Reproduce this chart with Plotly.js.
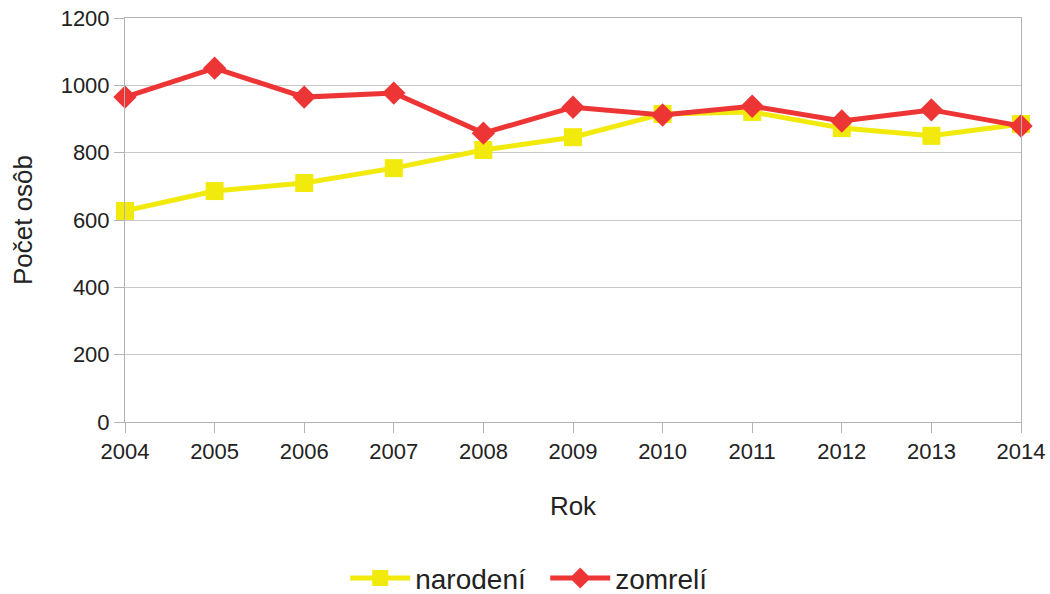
<!DOCTYPE html>
<html>
<head>
<meta charset="utf-8">
<script src="https://cdn.plot.ly/plotly-3.0.1.min.js"></script>
<style>html,body{margin:0;padding:0;background:#fff;}#chart{width:1050px;height:594px;}</style>
</head>
<body>
<div id="chart"></div>
<script>
const years = [2004, 2005, 2006, 2007, 2008, 2009, 2010, 2011, 2012, 2013, 2014];
const narodeni = [627, 686, 710, 754, 808, 846, 915, 921, 873, 850, 885];
const zomreli = [965, 1051, 965, 977, 858, 935, 912, 938, 894, 927, 879];
const yTicks = [0, 200, 400, 600, 800, 1000, 1200];

const traces = [
  {x: years, y: narodeni, name: 'narodení', type: 'scatter', mode: 'lines+markers', cliponaxis: false,
   line: {color: '#f2ea0c', width: 5}, marker: {symbol: 'square', size: 18, color: '#f2ea0c'}},
  {x: years, y: zomreli, name: 'zomrelí', type: 'scatter', mode: 'lines+markers', cliponaxis: false,
   line: {color: '#ee3536', width: 5}, marker: {symbol: 'diamond', size: 18, color: '#ee3536'}}
];

const layout = {
  width: 1050, height: 594,
  margin: {l: 125, r: 29, t: 18, b: 172, autoexpand: false},
  paper_bgcolor: '#fff', plot_bgcolor: '#fff',
  font: {family: 'Liberation Sans, Arial, sans-serif', color: '#222', size: 22},
  showlegend: true,
  legend: {orientation: 'h', x: 0.469, xanchor: 'center', y: -0.325, yanchor: 'top',
           font: {size: 28}, itemwidth: 60, entrywidth: 125, entrywidthmode: 'pixels'},
  xaxis: {
    range: [2004, 2014], tickvals: years, ticktext: years.map(String),
    showgrid: false, zeroline: false, showline: true, linecolor: '#b3b3b3', linewidth: 1,
    mirror: true, ticks: 'outside', ticklen: 10, tickcolor: '#b3b3b3',
    tickfont: {size: 22}, title: {text: 'Rok', font: {size: 26}, standoff: 33}
  },
  yaxis: {
    range: [0, 1200], tickvals: yTicks,
    showgrid: true, gridcolor: '#c8c8c8', gridwidth: 1, zeroline: false,
    showline: true, linecolor: '#b3b3b3', linewidth: 1, mirror: true,
    ticks: 'outside', ticklen: 10, tickcolor: '#b3b3b3',
    tickfont: {size: 22}, title: {text: 'Počet osôb', font: {size: 26}, standoff: 20}
  }
};

Plotly.newPlot('chart', traces, layout, {displayModeBar: false, staticPlot: true});
</script>
</body>
</html>
